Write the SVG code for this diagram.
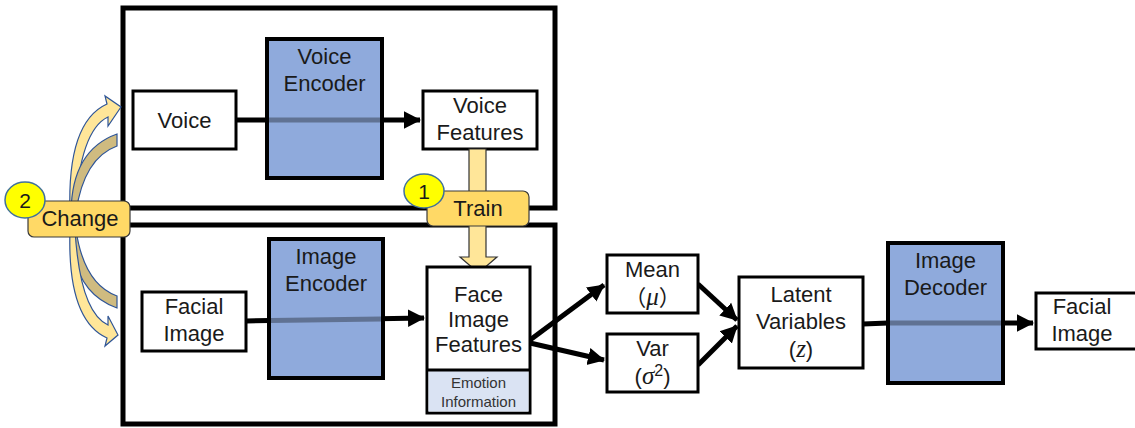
<svg xmlns="http://www.w3.org/2000/svg" width="1135" height="428" viewBox="0 0 1135 428">
<defs>
<style>
text{font-family:"Liberation Sans","Noto Sans CJK JP",sans-serif;fill:#1a1a1a;text-anchor:middle}
.t{font-size:22px}
.s{font-size:15px;fill:#333}
.m{font-family:"Liberation Serif",serif;font-style:italic;font-size:25px}
.box{fill:#fff;stroke:#000;stroke-width:3}
.enc{fill:#8FAADC;stroke:#000;stroke-width:4}
.frame{fill:none;stroke:#000;stroke-width:5}
.ln{stroke:#000;stroke-width:5;fill:none}
.stripe{fill:#000;fill-opacity:0.33}
.lbl{fill:#FFD966;stroke:#3a3a3a;stroke-width:1.2}
.num{fill:#FFFF00;stroke:#41719C;stroke-width:1.5}
.ya{fill:#FFE699;stroke:#2F5597;stroke-width:1.2}
.ta{fill:#CFBB80;stroke:#2F5597;stroke-width:1.2}
</style>
<marker id="ah" markerWidth="4" markerHeight="4" refX="3.2" refY="2" orient="auto" markerUnits="strokeWidth">
<path d="M0,0.25 L3.4,2 L0,3.75 Z" fill="#000"/>
</marker>
</defs>
<rect width="1135" height="428" fill="#fff"/>

<g id="frames">
<rect class="frame" x="123" y="8" width="432" height="200"/>
<rect class="frame" x="123" y="225" width="432" height="199"/>
</g>

<g id="connectors">
<line class="ln" x1="236" y1="120" x2="420" y2="120" marker-end="url(#ah)"/>
<line class="ln" x1="246" y1="321" x2="424" y2="318" marker-end="url(#ah)"/>
<line class="ln" x1="530" y1="340" x2="604" y2="285" marker-end="url(#ah)"/>
<line class="ln" x1="530" y1="343" x2="604" y2="360" marker-end="url(#ah)"/>
<line class="ln" x1="698" y1="284" x2="737" y2="320" marker-end="url(#ah)"/>
<line class="ln" x1="698" y1="365" x2="737" y2="326" marker-end="url(#ah)"/>
<line class="ln" x1="863" y1="324" x2="888" y2="323"/>
<line class="ln" x1="1003" y1="323" x2="1033" y2="323" marker-end="url(#ah)"/>
</g>

<g id="change-arrows">
<path class="ya" d="M70,212 Q67,122 107,104 L105,96 L121,107 L108,126 L108,117 Q80,130 75,212 Z"/>
<path class="ta" d="M71,212 Q72,150 117,134 L117,146 Q84,158 76,212 Z"/>
<path class="ta" d="M71,230 Q72,292 117,308 L117,296 Q84,284 76,230 Z"/>
<path class="ya" d="M70,230 Q67,320 107,338 L105,346 L118,335 L108,316 L108,325 Q80,312 75,230 Z"/>
</g>

<g id="voice">
<rect class="box" x="133" y="91" width="103" height="58"/>
<text class="t" x="184.5" y="128">Voice</text>
</g>
<g id="voice-encoder">
<rect class="enc" x="267" y="39" width="115" height="139"/>
<rect class="stripe" x="269" y="117.5" width="111" height="5"/>
<text class="t" x="324.5" y="64">Voice</text>
<text class="t" x="324.5" y="91">Encoder</text>
</g>
<g id="voice-features">
<rect class="box" x="423" y="91" width="114" height="58"/>
<text class="t" x="480" y="113">Voice</text>
<text class="t" x="480" y="140">Features</text>
</g>

<g id="train-arrow">
<path d="M469,149 L486,149 L486,257 L497,257 L478.5,273 L460,257 L469,257 Z" fill="#FFE699" stroke="#333" stroke-width="1.2"/>
</g>
<g id="train">
<rect class="lbl" x="427" y="191" width="102" height="35" rx="6"/>
<text x="478" y="216" style="font-size:22px">Train</text>
<ellipse class="num" cx="424" cy="191" rx="20" ry="17"/>
<text x="424" y="199" style="font-size:21px">1</text>
</g>
<g id="change">
<rect class="lbl" x="28" y="201" width="102" height="36" rx="6"/>
<text x="80" y="226" style="font-size:22px">Change</text>
<ellipse class="num" cx="25" cy="200" rx="20" ry="18"/>
<text x="25" y="208" style="font-size:21px">2</text>
</g>

<g id="facial-image-in">
<rect class="box" x="142" y="292" width="104" height="59"/>
<text class="t" x="194" y="314">Facial</text>
<text class="t" x="194" y="341">Image</text>
</g>
<g id="image-encoder">
<rect class="enc" x="269" y="239" width="114" height="139"/>
<path class="stripe" d="M271,318 L381,316.5 L381,321.5 L271,323 Z"/>
<text class="t" x="326" y="264">Image</text>
<text class="t" x="326" y="291">Encoder</text>
</g>
<g id="face-features">
<rect class="box" x="427" y="267" width="103" height="146"/>
<rect x="428.5" y="370" width="100" height="41.5" fill="#DAE3F3"/>
<line x1="427" y1="370" x2="530" y2="370" stroke="#000" stroke-width="3"/>
<text class="t" x="478.5" y="302">Face</text>
<text class="t" x="478.5" y="327">Image</text>
<text class="t" x="478.5" y="352">Features</text>
<text class="s" x="478.5" y="388">Emotion</text>
<text class="s" x="478.5" y="407">Information</text>
</g>

<g id="mean">
<rect class="box" x="607" y="255" width="91" height="58"/>
<text class="t" x="652.5" y="277">Mean</text>
<text class="t" x="652.5" y="305">（<tspan class="m">μ</tspan>）</text>
</g>
<g id="var">
<rect class="box" x="607" y="334" width="91" height="58"/>
<text class="t" x="652.5" y="356">Var</text>
<text class="t" x="652.5" y="384">(<tspan class="m">σ</tspan><tspan font-size="16" dy="-8">2</tspan><tspan dy="8">)</tspan></text>
</g>
<g id="latent">
<rect class="box" x="739" y="277" width="124" height="91"/>
<text class="t" x="801" y="302">Latent</text>
<text class="t" x="801" y="329">Variables</text>
<text class="t" x="801" y="357">(<tspan class="m">z</tspan>)</text>
</g>
<g id="image-decoder">
<rect class="enc" x="888" y="243" width="115" height="140"/>
<rect class="stripe" x="890" y="320.5" width="111" height="5"/>
<text class="t" x="945.5" y="268">Image</text>
<text class="t" x="945.5" y="295">Decoder</text>
</g>
<g id="facial-image-out">
<rect class="box" x="1036" y="293" width="104" height="56"/>
<text class="t" x="1082" y="314">Facial</text>
<text class="t" x="1082" y="341">Image</text>
</g>
</svg>
